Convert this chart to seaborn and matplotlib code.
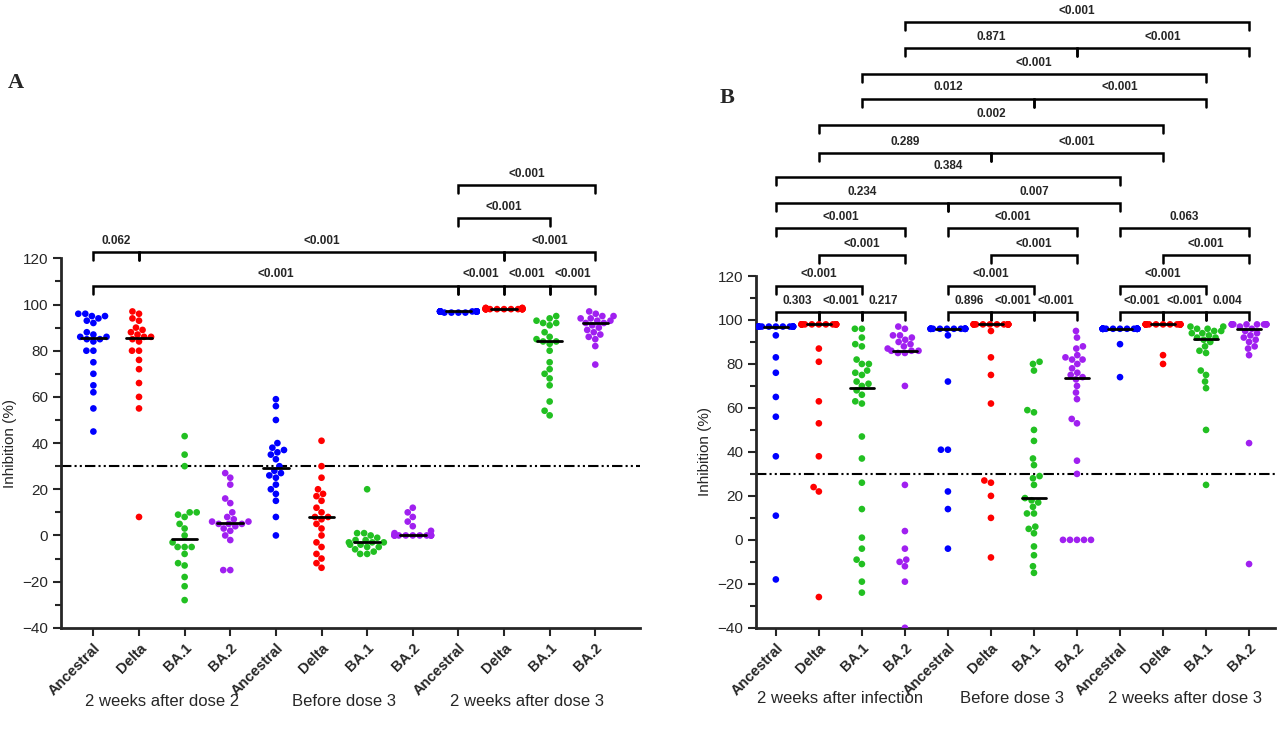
import numpy as np
import pandas as pd
import matplotlib
matplotlib.use("Agg")
import matplotlib.pyplot as plt
import seaborn as sns

sns.set_theme(style="ticks")
plt.rcParams['font.family'] = ['Liberation Sans', 'DejaVu Sans']

variants = ["Ancestral", "Delta", "BA.1", "BA.2"]
colors = {"Ancestral": "#0000ff", "Delta": "#ff0000", "BA.1": "#22c022", "BA.2": "#a020f0"}

groups_A = ["2 weeks after dose 2", "Before dose 3", "2 weeks after dose 3"]
groups_B = ["2 weeks after infection", "Before dose 3", "2 weeks after dose 3"]

# Panel A values
A_anc_d2 = [96, 95, 94, 93, 92, 95, 96, 88, 87, 86, 86, 85, 85, 84, 80, 80, 75, 70, 65, 62, 55, 45]
A_del_d2 = [97, 96, 94, 93, 90, 89, 88, 87, 86, 86, 85, 84, 80, 80, 76, 72, 66, 60, 55, 8]
A_ba1_d2 = [43, 35, 30, 10, 10, 9, 8, 5, 3, 0, -3, -5, -5, -5, -8, -12, -13, -18, -22, -28]
A_ba2_d2 = [27, 25, 22, 16, 14, 10, 8, 7, 6, 6, 5, 5, 5, 4, 3, 2, 0, -2, -15, -15]
A_anc_p3 = [59, 56, 50, 40, 38, 37, 36, 35, 33, 30, 28, 27, 26, 25, 22, 20, 18, 15, 8, 0]
A_del_p3 = [41, 30, 25, 20, 18, 17, 15, 12, 10, 8, 8, 7, 5, 3, 0, -3, -5, -8, -10, -12, -14]
A_ba1_p3 = [20, 1, 1, 0, -1, -2, -2, -3, -3, -3, -4, -4, -5, -5, -6, -7, -8, -8]
A_ba2_p3 = [12, 10, 8, 6, 4, 2, 1, 0, 0, 0, 0, 0, 0, 0, 0, 0, 0, 0]
A_anc_d3 = [97, 97, 97, 96.5, 97, 97, 96.5, 97, 97, 97, 96.5, 97, 97, 97, 96.5, 97, 97, 97]
A_del_d3 = [98, 98, 98, 98.5, 98, 98, 98.5, 98, 98, 98, 98.5, 98, 98, 98, 98, 98.5, 98, 98]
A_ba1_d3 = [95, 94, 93, 92, 92, 91, 88, 86, 85, 84, 84, 83, 80, 75, 72, 70, 68, 65, 58, 54, 52]
A_ba2_d3 = [97, 96, 95, 95, 94, 94, 93, 93, 92, 92, 91, 90, 89, 88, 87, 86, 85, 82, 74]

# Panel B values
B_anc_inf = [97] * 14 + [93, 83, 76, 65, 56, 38, 11, -18]
B_del_inf = [98] * 14 + [87, 81, 63, 53, 38, 24, 22, -26]
B_ba1_inf = [96, 96, 92, 89, 88, 82, 80, 80, 77, 76, 75, 72, 71, 70, 68, 66, 63, 62, 47, 37, 26, 14, 1, -4, -9, -11, -19, -24]
B_ba2_inf = [97, 96, 93, 93, 92, 91, 90, 89, 88, 87, 86, 86, 86, 85, 85, 70, 25, 4, -4, -9, -10, -12, -19, -40]
B_anc_p3 = [96] * 14 + [93, 72, 41, 41, 22, 14, -4]
B_del_p3 = [98] * 14 + [95, 83, 75, 62, 27, 26, 20, 10, -8]
B_ba1_p3 = [81, 80, 77, 59, 58, 50, 45, 37, 34, 29, 28, 25, 19, 18, 17, 15, 12, 12, 6, 5, 3, -3, -7, -12, -15]
B_ba2_p3 = [95, 92, 88, 87, 84, 83, 82, 82, 80, 78, 76, 75, 74, 73, 70, 67, 64, 55, 53, 36, 30, 0, 0, 0, 0, 0]
B_anc_d3 = [96] * 20 + [89, 74]
B_del_d3 = [98] * 16 + [84, 80]
B_ba1_d3 = [97, 97, 96, 96, 95, 95, 94, 94, 93, 92, 92, 91, 90, 88, 86, 85, 77, 75, 72, 69, 50, 25]
B_ba2_d3 = [98] * 10 + [97, 96, 95, 94, 93, 92, 91, 90, 88, 87, 84, 44, -11]

A_sets = [A_anc_d2, A_del_d2, A_ba1_d2, A_ba2_d2, A_anc_p3, A_del_p3, A_ba1_p3, A_ba2_p3,
          A_anc_d3, A_del_d3, A_ba1_d3, A_ba2_d3]
B_sets = [B_anc_inf, B_del_inf, B_ba1_inf, B_ba2_inf, B_anc_p3, B_del_p3, B_ba1_p3, B_ba2_p3,
          B_anc_d3, B_del_d3, B_ba1_d3, B_ba2_d3]

# brackets: (i, j, y level, label)
A_brackets = [
    (0, 8, 108, "<0.001"), (8, 9, 108, "<0.001"), (9, 10, 108, "<0.001"), (10, 11, 108, "<0.001"),
    (0, 1, 122.6, "0.062"), (1, 9, 122.6, "<0.001"), (9, 11, 122.6, "<0.001"),
    (8, 10, 137.3, "<0.001"), (8, 11, 151.6, "<0.001"),
]
B_brackets = [
    (0, 1, 103.6, "0.303"), (1, 2, 103.6, "<0.001"), (2, 3, 103.6, "0.217"),
    (4, 5, 103.6, "0.896"), (5, 6, 103.6, "<0.001"), (6, 7, 103.6, "<0.001"),
    (8, 9, 103.6, "<0.001"), (9, 10, 103.6, "<0.001"), (10, 11, 103.6, "0.004"),
    (0, 2, 115.5, "<0.001"), (4, 6, 115.5, "<0.001"), (8, 10, 115.5, "<0.001"),
    (1, 3, 129.5, "<0.001"), (5, 7, 129.5, "<0.001"), (9, 11, 129.5, "<0.001"),
    (0, 3, 141.8, "<0.001"), (4, 7, 141.8, "<0.001"), (8, 11, 141.8, "0.063"),
    (0, 4, 153.2, "0.234"), (4, 8, 153.2, "0.007"),
    (0, 8, 165.0, "0.384"),
    (1, 5, 175.9, "0.289"), (5, 9, 175.9, "<0.001"),
    (1, 9, 188.6, "0.002"),
    (2, 6, 200.5, "0.012"), (6, 10, 200.5, "<0.001"),
    (2, 10, 211.8, "<0.001"),
    (3, 7, 223.6, "0.871"), (7, 11, 223.6, "<0.001"),
    (3, 11, 235.5, "<0.001"),
]


def build_df(sets):
    rows = []
    for k, vals in enumerate(sets):
        for v in vals:
            rows.append({"pos": str(k), "variant": variants[k % 4], "val": v})
    return pd.DataFrame(rows)


def draw(ax, sets, brackets, groups, xlim, tick_h, letter, letter_xy):
    df = build_df(sets)
    order = [str(k) for k in range(12)]
    sns.swarmplot(data=df, x="pos", y="val", hue="variant", order=order,
                  palette=colors, size=4.8, ax=ax, legend=False, linewidth=0)
    for k, vals in enumerate(sets):
        m = np.median(vals)
        ax.plot([k - 0.28, k + 0.28], [m, m], color="black", lw=2, zorder=5)
    ax.axhline(30, color="black", lw=1.5, ls=(0, (5, 1.5, 1, 1.5, 1, 1.5)), zorder=1)
    ax.set_ylim(-40, 120)
    ax.set_xlim(*xlim)
    ax.set_yticks(np.arange(-40, 121, 20))
    ax.set_yticks(np.arange(-40, 121, 10), minor=True)
    ax.tick_params(axis="y", which="major", length=6, width=1.5, labelsize=11)
    ax.tick_params(axis="y", which="minor", length=4, width=1.5)
    ax.tick_params(axis="x", length=6, width=1.5)
    ax.set_xticks(range(12))
    ax.set_xticklabels([variants[k % 4] for k in range(12)], rotation=45, ha="right",
                       rotation_mode="anchor", fontsize=10.5, fontweight="bold")
    ax.set_xlabel("")
    ax.set_ylabel("Inhibition (%)", fontsize=11)
    for s in ["top", "right"]:
        ax.spines[s].set_visible(False)
    for s in ["left", "bottom"]:
        ax.spines[s].set_linewidth(2)
    for i, j, y, lab in brackets:
        ax.plot([i, i, j, j], [y - tick_h, y, y, y - tick_h], color="black", lw=1.8,
                clip_on=False, solid_joinstyle="miter")
        ax.text((i + j) / 2, y + 2.5, lab, ha="center", va="bottom", fontsize=8.5,
                fontweight="bold", clip_on=False)
    for g, name in enumerate(groups):
        ax.text(g * 4 + 1.5, -0.2, name, transform=ax.get_xaxis_transform(),
                ha="center", va="center", fontsize=12)
    ax.figure.text(letter_xy[0], letter_xy[1], letter, fontsize=16, fontweight="bold",
                   family="Liberation Serif")


fig = plt.figure(figsize=(12.8, 7.36), dpi=100)
axA = fig.add_axes([0.048, 0.147, 0.452, 0.502])
axB = fig.add_axes([0.591, 0.147, 0.405, 0.478])
draw(axA, A_sets, A_brackets, groups_A, (-0.7, 11.98), 3.5, "A", (0.006, 0.88))
draw(axB, B_sets, B_brackets, groups_B, (-0.45, 11.6), 3.6, "B", (0.562, 0.86))
fig.savefig("out.png", dpi=100)
